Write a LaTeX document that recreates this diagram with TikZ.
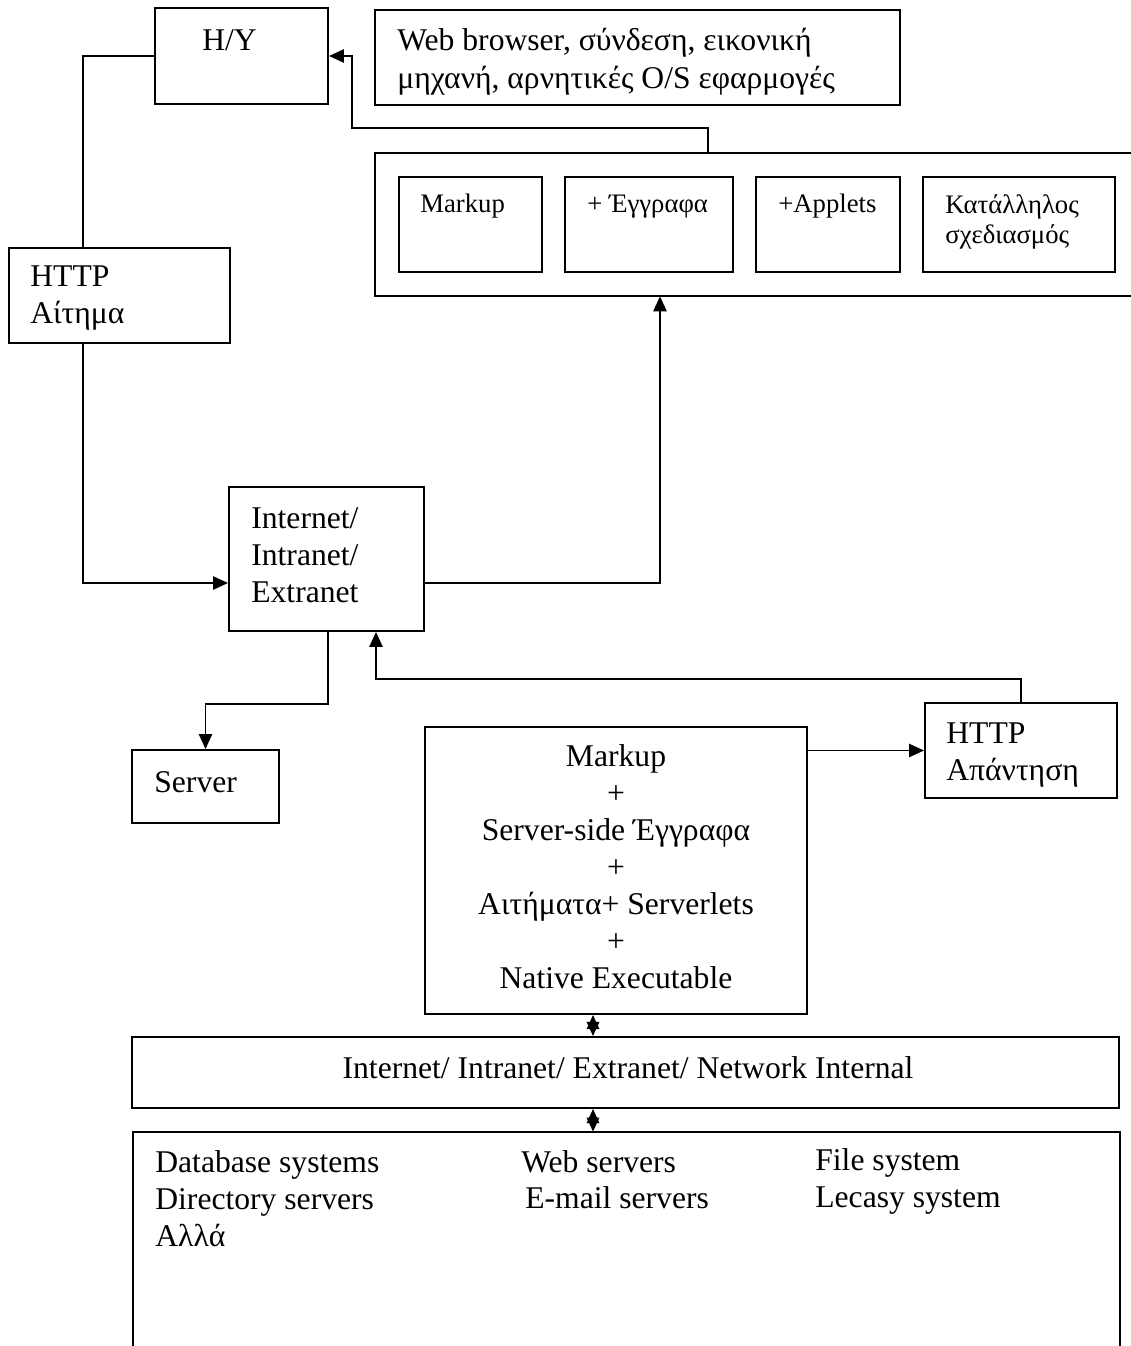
\documentclass[tikz,border=0pt]{standalone}
\usepackage{fontspec}
\setmainfont{Liberation Serif}
\usetikzlibrary{arrows.meta,positioning,fit}

\tikzset{
  box/.style={draw, line width=1.1pt, inner sep=0pt},
  frame/.style={inner sep=0pt},
  lbl/.style={anchor=base west, inner sep=0pt, align=left, font=\fontsize{18}{21}\selectfont},
  small/.style={lbl, font=\fontsize{15.2}{16.8}\selectfont},
  wire/.style={line width=1.1pt},
  arr/.style={wire, -{Triangle[length=8.5pt,width=7.5pt]}},
  dbl/.style={wire, {Triangle[length=8pt,width=7pt]}-{Triangle[length=8pt,width=7pt]}},
}

\begin{document}
\begin{tikzpicture}[x=0.02cm, y=-0.02cm]
  \useasboundingbox (0,0) rectangle (1130,1346);

  % Client side
  \node[box, fit={(155,8) (328,104)}] (hy) {};
  \node[lbl] (hyT) at (202,50) {H/Y};
  \node[box, fit={(375,10) (900,105)}] (web) {};
  \node[lbl, font=\fontsize{18}{21.6}\selectfont] (webT) at (397,88) {Web browser, σύνδεση, εικονική\\μηχανή, αρνητικές O/S εφαρμογές};

  % Content container (runs off the right edge)
  \node[frame, fit={(375,153) (1132,296)}] (cont) {};
  \draw[wire] (cont.north east) -| (cont.south west) -- (cont.south east);
  \node[box, fit={(399,177) (542,272)}] (markB) {};
  \node[small] (markT) at (420,212) {Markup};
  \node[box, fit={(565,177) (733,272)}] (docB) {};
  \node[small] (docT) at (587,212) {+ Έγγραφα};
  \node[box, fit={(756,177) (900,272)}] (appB) {};
  \node[small] (appT) at (778,212) {+Applets};
  \node[box, fit={(923,177) (1115,272)}] (fitB) {};
  \node[small] (fitT) at (945,243) {Κατάλληλος\\σχεδιασμός};

  % Request / network / server
  \node[box, fit={(9,248) (230,343)}] (req) {};
  \node[lbl] (reqT) at (30,323) {HTTP\\Αίτημα};
  \node[box, fit={(229,487) (424,631)}] (inet) {};
  \node[lbl] (inetT) at (251,602) {Internet/\\Intranet/\\Extranet};
  \node[box, fit={(132,750) (279,823)}] (srv) {};
  \node[lbl] (srvT) at (154,792) {Server};

  % Server side
  \node[box, fit={(425,727) (807,1014)}] (core) {};
  \node[lbl, anchor=base, align=center] (coreT) at (616,988)
    {Markup\\+\\Server-side Έγγραφα\\+\\Αιτήματα+ Serverlets\\+\\Native Executable};
  \node[box, fit={(925,703) (1117,798)}] (resp) {};
  \node[lbl] (respT) at (946,780) {HTTP\\Απάντηση};
  \node[box, fit={(132,1037) (1119,1108)}] (net) {};
  \node[lbl, anchor=base] (netT) at (628,1078) {Internet/ Intranet/ Extranet/ Network Internal};

  % Back-end systems (runs off the bottom edge)
  \node[frame, fit={(133,1132) (1120,1346)}] (sys) {};
  \draw[wire] (sys.south west) |- (sys.north east) -- (sys.south east);
  \node[lbl] (dbT) at (155,1246) {Database systems\\Directory servers\\Αλλά};
  \node[lbl] (wsT) at (521,1172) {Web servers};
  \node[lbl] (mailT) at (525,1208) {E-mail servers};
  \node[lbl] (fsT) at (815,1207) {File system\\Lecasy system};

  % Connectors
  \coordinate (xReq) at (83,0);
  \coordinate (yNet) at (0,583);
  \coordinate (xTop) at (708,0);
  \coordinate (kneeHY) at (352,128);
  \coordinate (xUp) at (660,0);
  \coordinate (xDown) at (328,0);
  \coordinate (xBack) at (376,0);
  \coordinate (xBus) at (593,0);

  \draw[arr] (cont.north -| xTop) |- (kneeHY) |- (hy.east);
  \draw[wire] (hy.west) -| (req.north -| xReq);
  \draw[arr] (req.south -| xReq) |- (inet.west |- yNet);
  \draw[arr] (inet.east |- yNet) -| (cont.south -| xUp);
  \draw[arr] (inet.south -| xDown) -- ++(0,72) -| (srv.north);
  \draw[arr] (resp.north) -- ++(0,-23) -| (inet.south -| xBack);
  \draw[arr] (core.east |- resp.west) -- (resp.west);
  \draw[dbl] (core.south -| xBus) -- (net.north -| xBus);
  \draw[dbl] (net.south -| xBus) -- (sys.north -| xBus);
\end{tikzpicture}
\end{document}
